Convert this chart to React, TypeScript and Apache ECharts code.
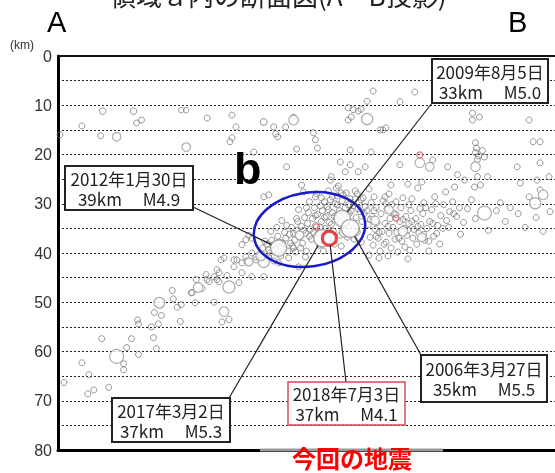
import React, { useEffect, useRef } from "react";
import * as echarts from "echarts";

// Depth axis range (km)
const depthMin = 0;
const depthMax = 80;

// [distance along A-B (arbitrary km), depth km, magnitude]
const sparsePoints: number[][] = [
  [0.4,16.0,1],[4.8,14.2,1],[8.6,16.2,1],[9.0,11.2,1.2],[15.2,11.2,1.2],[15.8,13.6,1],[16.8,13.0,1],[24.8,11.0,0.8],[25.8,11.0,0.8],
  [30.0,12.6,1],[35.0,12.0,1],[35.8,14.4,1],[34.6,17.4,1],[35.0,16.6,1],[39.4,19.5,1],[41.4,13.4,1.3],[43.4,14.4,1],[43.8,15.8,1],
  [44.2,16.4,1],[45.8,14.4,1],[47.4,12.4,0.8],[48.0,18.9,1],[46.0,22.5,1],[42.4,28.2,1],[41.4,28.6,1],[51.4,15.6,1],[51.8,17.0,1],
  [52.2,18.7,1],[55.0,24.5,1],[58.8,19.1,1],[56.8,21.5,1],[58.4,13.0,1],[59.0,12.4,1],[58.4,10.5,1],[59.4,10.9,1],[60.4,11.2,1],
  [61.0,10.8,1],[62.2,9.2,1],[63.4,7.1,1],[64.8,15.0,1],[66.0,14.6,1],[63.0,19.5,1],[57.8,23.5,1],[60.4,23.5,1],[58.8,22.1,1],
  [61.8,22.5,1],[71.8,7.3,1],[68.8,9.3,1],[65.4,15.0,1],[83.4,11.6,1],[84.8,12.4,1],[83.4,13.0,1],[94.8,13.0,1],[84.0,17.6,1],
  [84.2,18.7,1],[84.0,19.6,1],[84.6,20.3,1],[84.4,21.0,1],[85.4,19.2,1],[85.8,20.5,1],[95.6,17.4,1],[97.0,17.4,1],[97.0,21.7,1],
  [92.4,22.5,1],[75.4,21.1,1],[68.8,22.1,1],[78.4,22.5,1],[80.4,24.1,1],[81.8,25.2,1],[84.4,24.5,1],[86.4,24.5,1],[93.0,25.8,1],
  [96.4,25.2,1],[98.8,24.5,1],[79.8,26.6,1],[83.8,26.6,1],[72.4,26.8,1],[89.0,29.8,1],[91.0,30.8,1],[94.8,28.6,1],[54.8,25.2,1],
  [56.0,26.8,1],[57.0,27.8,1],[51.8,28.6,1],[60.2,28.0,1],[62.6,27.0,1],[65.8,28.6,1],[49.0,26.2,1],[67.0,26.2,1],[70.4,26.0,1],
  [73.2,25.6,1],[85.0,26.2,1],[97.0,27.2,1]
];

const lowerBandPoints: number[][] = [
  [1.2,66.3,1],[4.8,62.3,1],[6.2,64.7,1],[6.0,68.6,1],[7.2,67.8,1],[8.8,57.4,1],[10.2,67.3,1],[13.2,62.5,1],[13.2,63.7,1],
  [13.8,59.2,1],[14.8,57.4,1],[16.2,60.6,1],[16.0,53.6,1],[16.2,54.4,1],[18.8,55.0,1],[19.2,57.2,1],[19.8,59.4,1],[19.4,52.1,1],
  [20.8,52.7,1],[20.2,54.4,1],[23.0,47.6,1],[23.2,49.3,1],[24.0,51.0,1],[24.8,50.5,1],[24.6,53.9,1],[26.8,48.1,1],[27.6,50.1,1],
  [27.8,45.4,1],[27.0,48.0,1],[30.0,45.4,1],[31.4,44.8,1],[32.0,45.4,1],[32.4,44.0,1],[35.4,42.8,1],[36.0,41.4,1],[37.0,42.0,1],
  [37.8,40.8,1],[39.8,40.8,1],[39.0,44.8,1],[41.4,44.8,1],[37.0,38.3,1],[37.8,37.3,1],[38.4,36.4,1],[39.0,37.0,1],[32.8,41.4,1],
  [33.4,41.0,1],[29.8,44.4,1],[30.4,45.8,1],[32.0,43.4,1],[32.4,45.8,1],[36.4,46.0,1],[37.0,44.0,1],[35.4,41.4,1],[38.0,41.6,1],
  [39.0,40.0,1],[39.8,41.4,1],[42.4,40.8,1],[44.4,42.0,1],[47.4,39.0,1],[48.4,42.8,1],[49.8,40.8,1],[31.4,50.0,1],[33.0,54.0,1],
  [34.4,53.5,1],[29.0,47.2,1],[34.0,44.6,1]
];

const clusterPoints: number[][] = [
  [40.6,40.2,1],[41.2,39.0,1],[41.8,41.2,1],[42.0,38.2,1],[42.6,40.0,1],[43.0,37.4,1],[43.4,41.6,1],[43.8,39.2,1],[44.2,36.6,1],
  [44.8,40.6,1],[45.2,38.0,1],[45.6,35.8,1],[45.8,37.0,1],[46.2,39.6,1],[46.6,36.2,1],[47.0,34.8,1],[47.2,38.6,1],[47.6,37.4,1],
  [48.0,35.4,1],[48.2,33.6,1],[48.6,36.8,1],[49.0,34.6,1],[49.2,38.0,1],[49.6,32.8,1],[49.8,36.0,1],[50.2,34.0,1],[50.4,31.8,1],
  [50.8,35.2,1],[51.0,37.2,1],[51.2,33.0,1],[51.6,30.8,1],[51.8,34.4,1],[52.2,32.2,1],[52.4,36.0,1],[52.8,30.4,1],[53.0,33.6,1],
  [53.2,31.4,1],[53.6,29.6,1],[53.8,35.0,1],[54.0,32.6,1],[54.2,30.6,1],[54.6,33.8,1],[54.8,29.2,1],[55.2,31.8,1],[55.4,35.6,1],
  [55.8,30.0,1],[56.0,33.0,1],[56.2,28.4,1],[56.6,31.4,1],[56.8,36.4,1],[57.2,29.4,1],[57.4,34.8,1],[57.8,30.8,1],[58.0,27.8,1],
  [58.2,36.8,1],[58.6,32.0,1],[58.8,29.0,1],[59.2,34.0,1],[59.4,30.4,1],[59.8,27.4,1],[60.0,32.8,1],[60.2,35.8,1],[60.6,29.8,1],
  [60.8,31.6,1],[61.2,33.6,1],[61.4,28.8,1],[61.8,30.6,1],[47.8,39.8,1],[46.4,41.0,1],[50.0,39.6,1],[52.6,38.4,1],[45.0,33.4,1],
  [48.4,31.2,1],[44.0,34.8,1],[42.8,35.6,1],[50.6,29.6,1],[52.0,28.0,1],[54.4,27.4,1],[56.4,26.4,1],[49.4,27.6,1],[55.6,38.2,1],
  [53.4,39.6,1],[57.0,38.6,1],[59.6,37.2,1],[61.0,37.8,1],
  [41.6,37.6,1],[42.4,39.4,1],[43.2,38.4,1],[44.6,37.8,1],[45.4,39.2,1],[46.0,34.4,1],[46.8,38.0,1],[47.4,36.0,1],[48.8,39.0,1],
  [49.4,35.4,1],[50.6,36.6,1],[51.4,35.8,1],[51.8,32.4,1],[52.8,34.8,1],[53.6,32.8,1],[54.4,31.2,1],[55.0,34.2,1],[55.6,32.6,1],
  [56.2,30.2,1],[56.8,33.8,1],[57.6,32.2,1],[58.4,30.2,1],[59.0,31.4,1],[59.8,29.0,1],[60.4,31.0,1],[61.0,29.2,1],[61.6,32.0,1],
  [53.0,28.8,1],[55.2,28.6,1],[57.4,28.2,1],[50.0,30.8,1],[48.0,33.0,1]
];

const rightClusterPoints: number[][] = [
  [62.2,31.4,1],[62.4,34.2,1],[62.8,36.8,1],[63.0,29.8,1],[63.2,32.6,1],[63.4,38.4,1],[63.8,35.2,1],[64.0,30.8,1],[64.2,33.8,1],
  [64.4,37.0,1],[64.8,39.6,1],[65.0,32.0,1],[65.2,35.6,1],[65.4,29.4,1],[65.8,34.0,1],[66.0,37.8,1],[66.2,31.0,1],[66.6,36.0,1],
  [66.8,33.0,1],[67.0,39.0,1],[67.2,30.2,1],[67.4,34.8,1],[67.8,37.2,1],[68.0,32.2,1],[68.2,35.8,1],[68.4,39.8,1],[68.8,33.6,1],
  [69.0,30.8,1],[69.2,37.6,1],[69.6,35.0,1],[69.8,38.8,1],[70.0,32.6,1],[70.2,36.4,1],[70.6,34.0,1],[70.8,39.4,1],[71.0,31.4,1],
  [71.4,37.0,1],[71.6,35.2,1],[72.0,33.0,1],[72.2,38.2,1],[72.6,36.0,1],[73.0,34.2,1],[73.4,32.0,1],[73.8,37.4,1],[74.2,35.0,1],
  [74.8,33.6,1],[75.2,31.2,1],[75.6,36.6,1],[76.4,34.4,1],[77.0,32.4,1],[77.6,30.2,1],[78.2,33.4,1],[78.8,31.6,1],[79.4,29.6,1],
  [80.2,32.6,1],[80.8,30.8,1],[81.6,33.8,1],[82.4,31.0,1],[83.2,29.2,1],[84.0,33.0,1],[62.6,40.4,1],[64.6,41.0,1],[66.4,40.6,1],
  [63.6,28.6,1],[66.6,28.0,1],[69.4,28.8,1],[71.2,29.0,1],[73.6,29.8,1],[75.8,28.6,1],[78.0,27.6,1],[88.2,31.4,1],[90.0,33.6,1],
  [92.6,32.0,1],[94.0,34.8,1],[96.2,32.8,1],[97.6,35.6,1],[99.0,31.6,1],[86.6,35.4,1],[81.0,36.2,1],[76.8,38.2,1],[74.6,39.6,1],
  [70.4,41.2,1],
  [62.8,33.2,1],[63.6,31.4,1],[64.6,35.8,1],[65.6,38.2,1],[66.4,34.6,1],[67.6,32.0,1],[68.6,37.0,1],[69.4,33.2,1],[70.4,35.4,1],
  [71.2,33.6,1],[72.4,34.6,1],[73.6,36.2,1],[74.6,37.6,1],[75.4,34.0,1],[76.2,36.0,1],[77.4,35.0,1],[78.6,34.8,1],[79.6,32.0,1],
  [64.0,36.6,1],[66.0,30.0,1],[68.0,29.6,1],[70.6,30.2,1],[72.8,31.0,1],[74.0,30.8,1],[76.0,30.0,1]
];

const largePoints: number[][] = [
  [11.8,16.4,2],[25.8,18.5,2],[11.8,61.0,4],[20.4,50.1,2.8],[28.2,47.0,2.4],[34.4,46.9,3.3],[33.4,51.9,2.4],[41.4,41.8,3],
  [38.4,41.8,1.8],[47.4,13.0,2.4],[62.2,12.8,3],[72.8,21.7,2.4],[74.8,22.5,2],[84.0,22.5,2.4],[85.8,31.9,4],[96.0,29.9,3],
  [97.6,28.2,2.4],[40.8,40.6,2.4],[48.6,36.4,2],[57.6,35.8,2.4],[66.6,31.2,2],[69.4,35.6,2.4],[63.8,33.4,2],[73.2,36.8,2]
];

const redPoints: number[][] = [
  [72.8,20.1,1],[68.0,32.9,1],[52.0,34.7,1]
];

// Labelled events
const eventDates = ["2009年8月5日", "2006年3月27日", "2017年3月2日", "2012年1月30日", "2018年7月3日"];
const eventX = [57.2, 58.8, 53.2, 44.4, 54.6];
const eventDepth = [33, 35, 37, 39, 37];
const eventMag = [5.0, 5.5, 5.3, 4.9, 4.1];
const currentEventIndex = 4;

const sizeOf = (m: number) => 2.6 * m + 3.4;

export default function App() {
  const ref = useRef<HTMLDivElement>(null);
  useEffect(() => {
    if (!ref.current) return;
    const chart = echarts.init(ref.current, undefined, { renderer: "svg" });
    const grayStyle = { color: "rgba(255,255,255,0)", borderColor: "#7c7c7c", borderWidth: 1 };
    const evData = eventX.map((x, i) => [x, eventDepth[i], eventMag[i]]);
    const option: any = {
      animation: false,
      grid: { left: 58, right: -3, top: 56, bottom: 23, containLabel: false },
      xAxis: [
        { type: "value", min: 0, max: 100, axisLine: { show: true, onZero: false, lineStyle: { color: "#000", width: 3 } },
          axisTick: { show: false }, axisLabel: { show: false }, splitLine: { show: false } },
        { type: "value", position: "top", min: 0, max: 100, axisLine: { show: true, onZero: false, lineStyle: { color: "#111", width: 2 } },
          axisTick: { show: false }, axisLabel: { show: false }, splitLine: { show: false } }
      ],
      yAxis: {
        type: "value", inverse: true, min: depthMin, max: depthMax, interval: 5,
        axisLine: { show: true, onZero: false, lineStyle: { color: "#000", width: 3 } },
        axisTick: { show: false },
        axisLabel: {
          formatter: (v: number) => (v % 10 === 0 ? String(v) : ""),
          color: "#333", fontSize: 16, fontFamily: "Liberation Sans", margin: 6
        },
        splitLine: { show: true, lineStyle: { color: "#222", width: 1, type: [2, 2] } }
      },
      series: [
        { type: "scatter", data: [...sparsePoints, ...lowerBandPoints, ...clusterPoints, ...rightClusterPoints],
          symbolSize: (v: number[]) => sizeOf(v[2]), itemStyle: grayStyle, z: 2 },
        { type: "scatter", data: largePoints, symbolSize: (v: number[]) => sizeOf(v[2]),
          itemStyle: { color: "#fff", borderColor: "#999", borderWidth: 1.2 }, z: 3 },
        { type: "scatter", data: redPoints, symbolSize: (v: number[]) => sizeOf(v[2]),
          itemStyle: { color: "rgba(255,255,255,0)", borderColor: "#e0506a", borderWidth: 1.2 }, z: 3 },
        { type: "scatter", data: evData.filter((_, i) => i !== currentEventIndex), symbolSize: (v: number[]) => sizeOf(v[2]),
          itemStyle: { color: "#fff", borderColor: "#9a9a9a", borderWidth: 1.5 }, z: 4 },
        { type: "scatter", data: [evData[currentEventIndex]], symbolSize: (v: number[]) => sizeOf(v[2]),
          itemStyle: { color: "#fff", borderColor: "#e8101a", borderWidth: 3 }, z: 5 }
      ]
    };
    chart.setOption(option);

    // Annotation boxes (layout in pixels)
    const boxes = [
      { x: 432, y: 59, w: 116, h: 44, ax: 432, ay: 103, stroke: "#222" },
      { x: 421, y: 355, w: 126, h: 47, ax: 421, ay: 355, stroke: "#222" },
      { x: 112, y: 398, w: 118, h: 44, ax: 229, ay: 398, stroke: "#222" },
      { x: 65, y: 166, w: 128, h: 44, ax: 193, ay: 207, stroke: "#222" },
      { x: 288, y: 382, w: 117, h: 43, ax: 346, ay: 382, stroke: "#d84a5a" }
    ];
    const graphic: any[] = [];
    eventX.forEach((x, i) => {
      const p = chart.convertToPixel({ seriesIndex: 0 }, [x, eventDepth[i]]) as number[];
      const b = boxes[i];
      const r = sizeOf(eventMag[i]) / 2;
      const dx = b.ax - p[0], dy = b.ay - p[1];
      const len = Math.hypot(dx, dy);
      graphic.push({ type: "line", z: 20, shape: { x1: b.ax, y1: b.ay, x2: p[0] + (dx / len) * r, y2: p[1] + (dy / len) * r },
        style: { stroke: "#222", lineWidth: 1.2 } });
      graphic.push({ type: "rect", z: 21, shape: { x: b.x, y: b.y, width: b.w, height: b.h },
        style: { fill: "#fff", stroke: b.stroke, lineWidth: i === currentEventIndex ? 1.5 : 2 } });
      graphic.push({ type: "text", z: 22, x: b.x + b.w / 2, y: b.y + b.h / 2,
        style: { text: `${eventDates[i]}\n${eventDepth[i]}km　 M${eventMag[i].toFixed(1)}`,
          fontFamily: "Noto Sans CJK JP", fontSize: 17, lineHeight: 20, fill: "#222", align: "center", verticalAlign: "middle" } });
    });
    graphic.push(
      { type: "ellipse", z: 15, x: 309.5, y: 229.5, rotation: 0.15, shape: { cx: 0, cy: 0, rx: 56, ry: 37 },
        style: { fill: "none", stroke: "#1a1ac8", lineWidth: 2.5 } },
      { type: "text", z: 15, x: 234, y: 168, style: { text: "b", fontFamily: "Liberation Sans", fontWeight: "bold", fontSize: 45, fill: "#000", align: "left", verticalAlign: "middle" } },
      { type: "text", z: 15, x: 47, y: 22, style: { text: "A", fontFamily: "Liberation Sans", fontSize: 29, fill: "#000", align: "left", verticalAlign: "middle" } },
      { type: "text", z: 15, x: 508, y: 22, style: { text: "B", fontFamily: "Liberation Sans", fontSize: 29, fill: "#000", align: "left", verticalAlign: "middle" } },
      { type: "text", z: 15, x: 10, y: 45, style: { text: "(km)", fontFamily: "Liberation Sans", fontSize: 12, fill: "#333", align: "left", verticalAlign: "middle" } },
      { type: "text", z: 15, x: 110, y: -6, style: { text: "領域ａ内の断面図(A－B投影)", fontFamily: "Noto Sans CJK JP", fontSize: 26, fill: "#222", align: "left", verticalAlign: "middle" } },
      { type: "line", z: 16, shape: { x1: 260, y1: 450, x2: 443, y2: 450 }, style: { stroke: "#9a9a9a", lineWidth: 3 } },
      { type: "text", z: 17, x: 352, y: 457, style: { text: "今回の地震", fontFamily: "Noto Sans CJK JP", fontWeight: "bold", fontSize: 24, fill: "#ff0000", align: "center", verticalAlign: "middle" } }
    );
    chart.setOption({ graphic });
    return () => chart.dispose();
  }, []);
  return <div ref={ref} style={{ position: "fixed", left: 0, top: 0, width: 555, height: 473 }} />;
}
